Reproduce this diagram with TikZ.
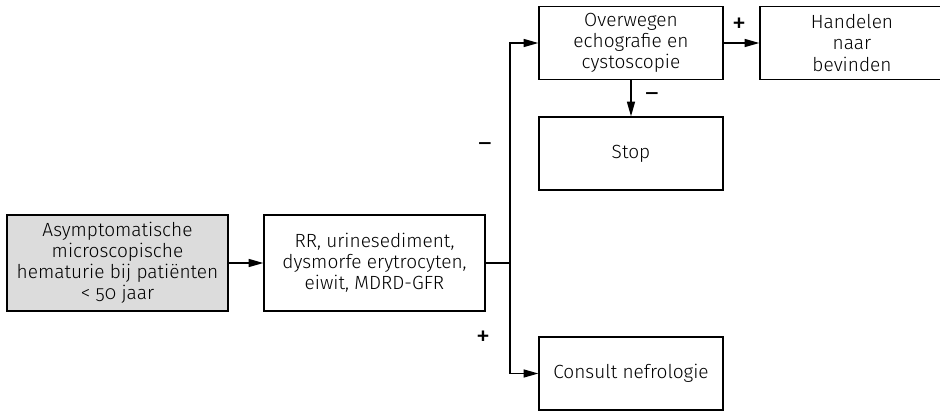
\documentclass[tikz,border=0pt]{standalone}
\usepackage{fontspec}
\setmainfont{Fira Sans Light}[Numbers=OldStyle]
\newfontfamily\tekenfont{Fira Sans}
\usetikzlibrary{arrows.meta}
\definecolor{boxgray}{HTML}{DCDCDC}
\begin{document}
\begin{tikzpicture}[x=0.75pt,y=-0.75pt,
            font=\fontsize{14.3}{15.8}\selectfont,
            box/.style={draw,line width=1pt,align=center,inner sep=2pt},
            wide/.style={box,minimum width=221*0.75pt,minimum height=96*0.75pt},
            narrow/.style={box,minimum width=184*0.75pt,minimum height=73*0.75pt},
            arr/.style={line width=1pt,-{Triangle[length=11pt,width=6pt]}},
            lijn/.style={line width=1pt},
            teken/.style={font=\tekenfont\fontsize{19}{20}\selectfont},
            plus/.style={font=\tekenfont\fontsize{21}{22}\selectfont}]
            \useasboundingbox (0,0) rectangle (940,411);
            \node[wide,fill=boxgray] (ast) at (117.5,263) {Asymptomatische\\microscopische\\hematurie bij patiënten\\< 50 jaar};
            \node[wide] (onderzoek) at (374.5,263) {RR, urinesediment,\\dysmorfe erytrocyten,\\eiwit, MDRD-GFR};
            \node[narrow] (echo) at (631,43) {Overwegen\\echografie en\\cystoscopie};
            \node[narrow] (handelen) at (852,43) {Handelen\\naar\\bevinden};
            \node[narrow] (stop) at (631,153.5) {Stop};
            \node[narrow] (consult) at (631,373.5) {Consult nefrologie};
            \coordinate (splits) at (510,263);
            \draw[arr] (ast) -- (onderzoek);
            \draw[lijn] (onderzoek) -- (splits);
            \draw[arr] (splits) |- (echo);
            \draw[arr] (splits) |- (consult);
            \draw[arr] (echo) -- (stop);
            \draw[arr] (echo) -- (handelen);
            \node[teken] (minA) at (485,147) {–};
            \node[plus] (plusA) at (483,338) {+};
            \node[teken] (minB) at (652,97) {–};
            \node[plus] (plusB) at (739,25) {+};
        \end{tikzpicture}
\end{document}
